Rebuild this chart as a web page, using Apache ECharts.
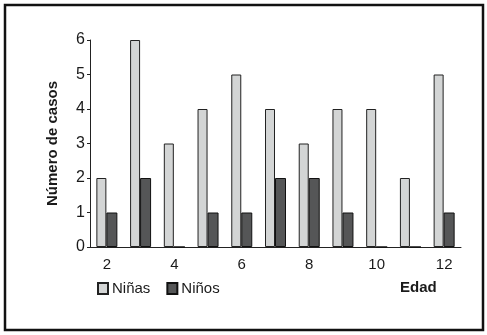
<!DOCTYPE html>
<html>
<head>
<meta charset="utf-8">
<script src="https://cdn.jsdelivr.net/npm/echarts@6/dist/echarts.min.js"></script>
<style>
  html, body { margin: 0; padding: 0; background: #fff; }
  #chart { width: 487px; height: 335px; }
</style>
</head>
<body>
<div id="chart"></div>
<script>
// ages 2..12, only even ones get a label
const edades = ['2', '3', '4', '5', '6', '7', '8', '9', '10', '11', '12'];
const ninas = [2, 6, 3, 4, 5, 4, 3, 4, 4, 2, 5];
const ninos = [1, 2, 0, 1, 1, 2, 2, 1, 0, 0, 1];
const yTicks = [0, 1, 2, 3, 4, 5, 6];

const chart = echarts.init(document.getElementById('chart'));

const font = 'Liberation Sans, Arial, sans-serif';

chart.setOption({
    animation: false,
    textStyle: { fontFamily: font },
    grid: { left: 90, right: 26, top: 40, bottom: 88, containLabel: false },
    legend: {
        left: 92,
        top: 276,
        icon: 'rect',
        itemWidth: 10,
        itemHeight: 11,
        itemGap: 16,
        textStyle: { fontSize: 15, color: '#1a1a1a', fontFamily: font, padding: [0, 0, 0, -1] },
        data: ['Niñas', 'Niños']
    },
    xAxis: {
        type: 'category',
        data: edades,
        axisLine: { lineStyle: { color: '#222', width: 1 } },
        axisTick: { interval: 0, length: 6, lineStyle: { color: '#222' } },
        axisLabel: { interval: 1, fontSize: 15, color: '#1a1a1a', margin: 10 }
    },
    yAxis: {
        type: 'value',
        min: yTicks[0],
        max: yTicks[yTicks.length - 1],
        interval: 1,
        name: 'Número de casos',
        nameLocation: 'middle',
        nameRotate: 90,
        nameGap: 30,
        nameTextStyle: { fontSize: 15, fontWeight: 'bold', color: '#1a1a1a' },
        axisLine: { show: true, lineStyle: { color: '#222', width: 1 } },
        axisTick: { show: true, length: 3, lineStyle: { color: '#222' } },
        axisLabel: { fontSize: 16, color: '#1a1a1a', margin: 5 },
        splitLine: { show: false }
    },
    series: [
        {
            name: 'Niñas',
            type: 'bar',
            data: ninas,
            barWidth: 10,
            barGap: '0%',
            itemStyle: { color: '#d3d5d5', borderColor: '#222', borderWidth: 1 }
        },
        {
            name: 'Niños',
            type: 'bar',
            data: ninos,
            barWidth: 11,
            barGap: '0%',
            itemStyle: { color: '#555657', borderColor: '#111', borderWidth: 1 }
        }
    ],
    graphic: [
        {
            type: 'rect',
            shape: { x: 5, y: 5, width: 478, height: 325 },
            style: { fill: 'none', stroke: '#111', lineWidth: 2.5 }
        },
        {
            type: 'text',
            left: 400,
            top: 280,
            style: { text: 'Edad', font: 'bold 15px ' + font, fill: '#1a1a1a' }
        }
    ]
});
</script>
</body>
</html>
